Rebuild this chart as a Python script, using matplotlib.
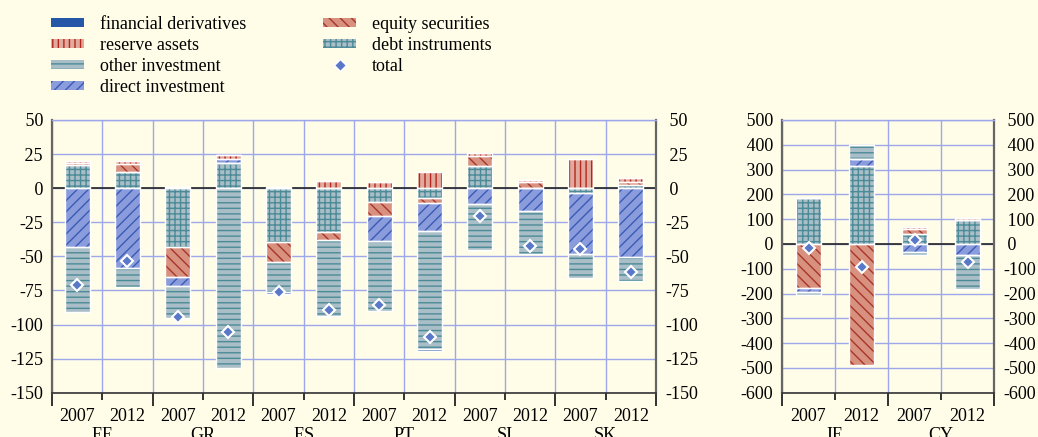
import numpy as np
import matplotlib
matplotlib.use("Agg")
import matplotlib.pyplot as plt
from matplotlib.patches import Patch
from matplotlib.lines import Line2D
from matplotlib.ticker import FuncFormatter

plt.rcParams['font.family'] = ['Liberation Serif', 'DejaVu Serif']
plt.rcParams['axes.unicode_minus'] = False
plt.rcParams['hatch.linewidth'] = 1.0

# ---- data (left panel: 2007/2012 per country) ----
years = ["2007", "2012"]
left_countries = ["EE", "GR", "ES", "PT", "SI", "SK"]
left_debt = [17, 12.2, -43.4, 18.3, -39.8, -32.4, -10.5, -7.3, 16.3, 0, -3.7, 2.2]
left_equity = [1.5, 5.8, -22, 0, -14.1, -5.4, -10.2, -3.7, 7.4, 4.5, 0, 2.5]
left_direct = [-43.5, -58.8, -6.1, 3.4, 0, 0, -18.3, -20.2, -11.7, -16.6, -44.8, -50.7]
left_reserve = [1.5, 2, 0.5, 2.8, 0.5, 5.4, 4.5, 11.5, 2.2, 1.5, 21.7, 2.8]
left_other = [-47.5, -13.4, -23.9, -131.7, -22.4, -56.1, -51.2, -86.6, -33.9, -31.9, -17.5, -17.1]
left_findiv = [0, 0, 0, 0, -1.0, 0, 0, -1.7, 0, 0, 0, 0]
left_total = [-70.7, -53.7, -94.4, -105.6, -76.3, -89, -86, -109.3, -20.7, -42.2, -44.6, -61.2]

# ---- data (right panel) ----
right_countries = ["IE", "CY"]
right_debt = [185.6, 313, 40, 95.5]
right_equity = [-177.5, -487, 20, 0]
right_direct = [-17.5, 30, -33.6, -45.7]
right_reserve = [0, 0, 7, 10]
right_other = [-10, 56, -12, -134.3]
right_findiv = [0, 0, 0, 0]
right_total = [-16, -93, 17.5, -74]

BG = '#fffde8'
GRID = '#9ea6ec'

# fill colour, hatch colour, hatch
STYLES = {
    'debt': ('#a9bec6', '#4b8b98', '+++'),
    'equity': ('#d8917f', '#a8352a', '\\\\\\'),
    'direct': ('#8a9cdc', '#3a5bb5', '///'),
    'reserve': ('#e2aa9c', '#b3271e', '|||'),
    'other': ('#a9bec6', '#4b8b98', '---'),
    'findiv': ('#2556a8', '#2556a8', None),
}
ORDER = ['debt', 'equity', 'direct', 'reserve', 'other', 'findiv']
LABELS = {
    'findiv': 'financial derivatives',
    'reserve': 'reserve assets',
    'other': 'other investment',
    'direct': 'direct investment',
    'equity': 'equity securities',
    'debt': 'debt instruments',
}
FS = 13


def stacked(ax, series, total, width):
    n = len(total)
    x = np.arange(n)
    pos = np.zeros(n)
    neg = np.zeros(n)
    for key in ORDER:
        vals = np.asarray(series[key], dtype=float)
        bottom = np.where(vals >= 0, pos, neg)
        fc, hc, hatch = STYLES[key]
        ax.bar(x, vals, width, bottom=bottom, color=fc, edgecolor=hc,
               hatch=hatch, linewidth=0, zorder=2)
        ax.bar(x, vals, width, bottom=bottom, fill=False, edgecolor='white',
               linewidth=1, zorder=3)
        pos = pos + np.where(vals >= 0, vals, 0)
        neg = neg + np.where(vals < 0, vals, 0)
    ax.plot(x, total, 'D', color='#5a78c8', markersize=6.5,
            markeredgecolor='white', markeredgewidth=1.5, zorder=4, linestyle='none')


def ylabel_fmt(v, _):
    # leading space so the minus sign hangs out on the right-hand labels
    return f"{v:.0f}" if v < 0 else f" {v:.0f}"


def style_axes(ax, n, ylim, step, groups):
    ax.set_facecolor(BG)
    ax.set_xlim(-0.5, n - 0.5)
    ax.set_ylim(*ylim)
    ax.set_yticks(np.arange(ylim[0], ylim[1] + 1, step))
    ax.yaxis.set_major_formatter(FuncFormatter(ylabel_fmt))
    ax.set_xticks(np.arange(n))
    ax.set_xticklabels(years * (n // 2))
    ax.set_xticks(np.arange(-0.5, n, 1.0), minor=True)
    ax.set_axisbelow(True)
    ax.grid(True, which='minor', axis='x', color=GRID, lw=1, zorder=0)
    ax.grid(True, which='major', axis='y', color=GRID, lw=1, zorder=0)
    ax.axhline(0, color='#222222', lw=1.2, zorder=1.5)
    ax.tick_params(axis='x', which='major', length=0, pad=11, labelsize=FS)
    ax.tick_params(axis='x', which='minor', length=5, width=1.3, color='#222222')
    ax.tick_params(axis='y', which='both', length=0, labelsize=FS,
                   left=False, right=False, labelleft=True, labelright=True, pad=6.5)
    for tick in ax.yaxis.get_major_ticks():
        tick.label2.set_horizontalalignment('left')
    for i, t in enumerate(ax.xaxis.get_minor_ticks()):
        if i % 2 == 0:
            t.tick1line.set_markersize(9)
    for side in ('left', 'right'):
        ax.spines[side].set_color('#666666')
        ax.spines[side].set_linewidth(1.6)
    ax.spines['bottom'].set_color('#333333')
    ax.spines['bottom'].set_linewidth(1.2)
    ax.spines['top'].set_color(GRID)
    ax.spines['top'].set_linewidth(1)
    for i, g in enumerate(groups):
        ax.text(2 * i + 0.5, -0.125, g, transform=ax.get_xaxis_transform(),
                ha='center', va='top', fontsize=FS, clip_on=False)


fig = plt.figure(figsize=(10.38, 4.37), dpi=100, facecolor=BG)
H = 437.0
W = 1038.0
bottom = 1 - 392.7 / H
height = (392.7 - 120) / H
ax1 = fig.add_axes([52 / W, bottom, (656 - 52) / W, height])
ax2 = fig.add_axes([782 / W, bottom, (994 - 782) / W, height])

left_series = dict(debt=left_debt, equity=left_equity, direct=left_direct,
                   reserve=left_reserve, other=left_other, findiv=left_findiv)
right_series = dict(debt=right_debt, equity=right_equity, direct=right_direct,
                    reserve=right_reserve, other=right_other, findiv=right_findiv)

stacked(ax1, left_series, left_total, 0.5)
style_axes(ax1, len(left_total), (-150, 50), 25, left_countries)
stacked(ax2, right_series, right_total, 0.48)
style_axes(ax2, len(right_total), (-600, 500), 100, right_countries)

# legend
legend_keys = ['findiv', 'reserve', 'other', 'direct', 'equity', 'debt']
handles = []
for key in legend_keys:
    fc, hc, hatch = STYLES[key]
    handles.append(Patch(facecolor=fc, edgecolor=hc, hatch=hatch, linewidth=0))
handles.append(Line2D([], [], marker='D', color='#5a78c8', markersize=6,
                      markeredgecolor='white', markeredgewidth=1, linestyle='none'))
labels = [LABELS[k] for k in legend_keys] + ['total']
fig.legend(handles, labels, ncol=2, loc='upper left', bbox_to_anchor=(51 / W, 1 - 16 / H),
           frameon=False, fontsize=FS, handlelength=1.85, handleheight=0.45,
           handletextpad=0.85, columnspacing=4.27, labelspacing=0.22,
           borderpad=0, borderaxespad=0)

fig.savefig('out.png', dpi=100, facecolor=BG)
